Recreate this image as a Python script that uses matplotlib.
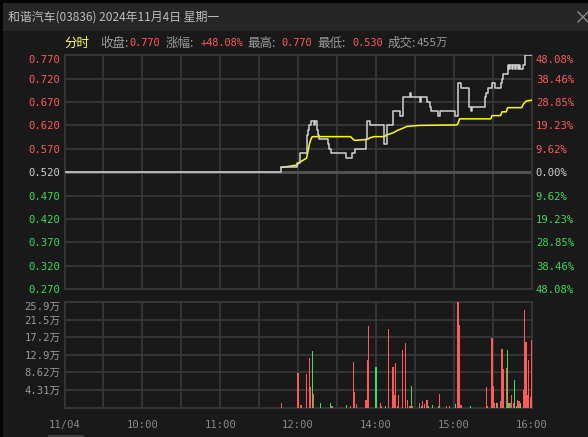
import matplotlib
matplotlib.use("Agg")
import matplotlib.pyplot as plt
from matplotlib.patches import Rectangle
from matplotlib.lines import Line2D

# ---------------- data ----------------
prev_close = 0.52
price_ticks = [0.770, 0.720, 0.670, 0.620, 0.570, 0.520, 0.470, 0.420, 0.370, 0.320, 0.270]
pct_labels = ["48.08%", "38.46%", "28.85%", "19.23%", "9.62%", "0.00%",
              "9.62%", "19.23%", "28.85%", "38.46%", "48.08%"]
vol_ticks = [4.31, 8.62, 12.9, 17.2, 21.5, 25.9]
vol_labels = ["4.31万", "8.62万", "12.9万", "17.2万", "21.5万", "25.9万"]
time_pos = [0, 55, 110, 165, 220, 275, 330]
time_labels = ["11/04", "10:00", "11:00", "12:00", "14:00", "15:00", "16:00"]

# minute index (0..330) and price, step line
price_idx = [0, 153, 164, 166, 171, 172, 173, 174, 176, 177, 178, 179, 180, 186, 187, 188,
             199, 203, 205, 213, 214, 216, 226, 228, 232, 237, 239, 244, 245, 251, 252,
             256, 258, 259, 264, 265, 276, 278, 280, 286, 287, 288, 297, 298, 299, 302,
             304, 308, 309, 310, 313, 314, 315, 316, 317, 318, 319, 320, 321, 322, 324,
             325, 330]
price_val = [0.52, 0.53, 0.54, 0.56, 0.60, 0.61, 0.62, 0.63, 0.62, 0.63, 0.61, 0.60, 0.59,
             0.58, 0.57, 0.56, 0.55, 0.56, 0.57, 0.59, 0.63, 0.62, 0.58, 0.62, 0.65, 0.64,
             0.68, 0.69, 0.68, 0.67, 0.68, 0.67, 0.66, 0.65, 0.64, 0.65, 0.64, 0.71, 0.70,
             0.66, 0.65, 0.66, 0.68, 0.69, 0.70, 0.71, 0.70, 0.71, 0.72, 0.73, 0.75, 0.74,
             0.75, 0.74, 0.75, 0.74, 0.75, 0.74, 0.75, 0.74, 0.75, 0.77, 0.77]

avg_idx = [153, 164, 166, 171, 172, 173, 174, 175, 202, 204, 205, 214, 216, 219, 226, 227,
           232, 235, 239, 242, 251, 277, 278, 279, 301, 302, 308, 309, 312, 313, 323, 324,
           326, 330]
avg_val = [0.53, 0.535, 0.541, 0.55, 0.565, 0.58, 0.59, 0.596, 0.596, 0.590, 0.588, 0.590,
           0.594, 0.596, 0.596, 0.599, 0.604, 0.609, 0.614, 0.618, 0.620, 0.621, 0.624,
           0.634, 0.634, 0.641, 0.641, 0.649, 0.649, 0.658, 0.658, 0.665, 0.672, 0.674]

# volume bars (万), direction 1 = up (red), -1 = down (green)
vol_idx = [153, 165, 167, 171, 173, 174, 175, 176, 181, 188, 189, 199, 202, 204, 205, 206,
           213, 214, 215, 220, 223, 224, 227, 229, 232, 233, 234, 235, 236, 239, 241, 242,
           244, 245, 246, 251, 252, 253, 254, 256, 257, 260, 264, 265, 270, 272, 276, 278,
           279, 280, 287, 298, 299, 302, 303, 304, 305, 306, 308, 309, 310, 312, 313, 314,
           315, 316, 317, 318, 319, 320, 321, 322, 324, 325, 326, 327, 328, 329, 330]
vol_val = [1.06, 8.36, 0.57, 8.20, 12.0, 5.12, 13.8, 3.33, 1.06, 1.06, 0.41, 0.57, 0.41,
           11.1, 3.90, 0.89, 1.87, 11.6, 19.9, 9.82, 1.06, 0.41, 0.41, 19.1, 9.82, 3.09,
           10.8, 0.41, 3.00, 14.0, 15.9, 1.87, 0.41, 5.20, 0.41, 1.06, 0.41, 1.54, 0.89,
           1.87, 0.41, 0.57, 0.41, 3.33, 0.41, 0.41, 0.89, 25.7, 20.1, 0.57, 0.41, 4.95,
           0.41, 17.0, 5.28, 1.06, 1.06, 1.06, 1.54, 14.2, 9.42, 9.58, 14.0, 1.06, 1.06,
           3.00, 1.06, 6.74, 0.41, 1.87, 1.54, 1.06, 4.30, 23.8, 16.0, 3.00, 11.6, 2.68,
           16.5]
vol_dir = [1, 1, 1, 1, 1, 1, -1, 1, -1, -1, 1, -1, 1, 1, 1, 1,
           1, 1, 1, -1, 1, 1, -1, 1, 1, 1, 1, 1, 1, 1, 1, 1,
           1, -1, 1, 1, -1, 1, 1, 1, -1, -1, -1, 1, 1, 1, -1, 1,
           1, 1, -1, 1, 1, 1, 1, 1, -1, 1, 1, 1, 1, 1, -1, -1,
           1, 1, 1, -1, -1, 1, 1, -1, 1, 1, 1, 1, 1, 1, 1]

# ---------------- style ----------------
BG = "#191919"
BAR = "#262626"
GRID = "#3a3a3a"
RED = "#ff5a5a"
GREEN = "#3ddc5a"
GRAY = "#9a9a9a"
WHITE = "#d2d2d2"
YELLOW = "#ffff00"
W, H = 588, 437
NUM = ["DejaVu Sans Mono", "Noto Sans CJK SC"]
CJK = ["Noto Sans CJK SC", "DejaVu Sans"]

fig = plt.figure(figsize=(W / 100, H / 100), dpi=100, facecolor=BG)


def frect(x0, y0, x1, y1, color):
    fig.add_artist(Rectangle((x0 / W, 1 - y1 / H), (x1 - x0) / W, (y1 - y0) / H,
                             transform=fig.transFigure, facecolor=color,
                             edgecolor="none", zorder=0))


def ftext(x, y, s, color, size=9, family=CJK, ha="left"):
    fig.text(x / W, 1 - y / H, s, color=color, fontsize=size, family=family,
             ha=ha, va="center")


# window decoration
frect(0, 0, W, 3, "#050505")
frect(0, 0, 3, H, "#050505")
frect(3, 3, W, 31, BAR)
ftext(8, 17, "和谐汽车(03836) 2024年11月4日 星期一", "#bdbdbd", size=8.6)
fig.add_artist(Line2D([578 / W, 588 / W], [1 - 12 / H, 1 - 22 / H], color="#8a8a8a",
                      lw=1, transform=fig.transFigure))
fig.add_artist(Line2D([578 / W, 588 / W], [1 - 22 / H, 1 - 12 / H], color="#8a8a8a",
                      lw=1, transform=fig.transFigure))
fig.add_artist(Line2D([49 / W, 83 / W], [1 - 435.5 / H, 1 - 435.5 / H], color="#3c3c3c",
                      lw=1.5, transform=fig.transFigure))

# info line
iy = 43
NS = 7.4
ftext(64, iy, "分时", "#ffff66", size=9)
ftext(100, iy, "收盘:", GRAY, size=9)
ftext(129, iy, "0.770", RED, size=NS, family=NUM)
ftext(166, iy, "涨幅:", GRAY, size=9)
ftext(201, iy, "+48.08%", RED, size=NS, family=NUM)
ftext(247, iy, "最高:", GRAY, size=9)
ftext(281, iy, "0.770", RED, size=NS, family=NUM)
ftext(317, iy, "最低:", GRAY, size=9)
ftext(352, iy, "0.530", RED, size=NS, family=NUM)
ftext(388, iy, "成交:", GRAY, size=9)
ftext(416, iy, "455万", GRAY, size=NS + 0.6, family=NUM)

# axes
L, R = 64.5, 531.7
ax1 = fig.add_axes([L / W, 1 - 289 / H, (R - L) / W, (289 - 55.3) / H])
ax2 = fig.add_axes([L / W, 1 - 407.7 / H, (R - L) / W, (407.7 - 301.5) / H])
for ax in (ax1, ax2):
    ax.set_facecolor(BG)
    for sp in ax.spines.values():
        sp.set_color(GRID)
        sp.set_linewidth(1.2)
    ax.set_xlim(0, 330)
    for k in range(1, 12):
        ax.axvline(k * 27.5, color=GRID, lw=1.2, zorder=1)

# price panel
ax1.set_ylim(0.27, 0.77)
for p in price_ticks:
    if abs(p - prev_close) < 1e-9:
        ax1.axhline(p, color="#555555", lw=2.0, zorder=1)
    else:
        ax1.axhline(p, color=GRID, lw=1.2, zorder=1)
ax1.plot(avg_idx, avg_val, color=YELLOW, lw=1.1, zorder=3)
ax1.plot(price_idx, price_val, color=WHITE, lw=1.1, drawstyle="steps-post", zorder=4)
ax1.set_xticks([])
ax1.set_yticks(price_ticks)
ax1.set_yticklabels([f"{p:.3f}" for p in price_ticks], family=NUM, fontsize=7.6)
ax1.tick_params(axis="y", length=0, pad=3)


def tick_color(p):
    if p > prev_close + 1e-9:
        return RED
    if p < prev_close - 1e-9:
        return GREEN
    return "#d0d0d0"


for lab, p in zip(ax1.get_yticklabels(), price_ticks):
    lab.set_color(tick_color(p))
    if p == max(price_ticks):
        lab.set_va("top")

axr = ax1.twinx()
axr.set_ylim(0.27, 0.77)
axr.set_yticks(price_ticks)
axr.set_yticklabels(pct_labels, family=NUM, fontsize=7.6)
axr.tick_params(axis="y", length=0, pad=3)
for sp in axr.spines.values():
    sp.set_visible(False)
for lab, p in zip(axr.get_yticklabels(), price_ticks):
    lab.set_color(tick_color(p))
    if p == max(price_ticks):
        lab.set_va("top")

# volume panel
ax2.set_ylim(0, 25.9)
for v in vol_ticks:
    ax2.axhline(v, color=GRID, lw=1.2, zorder=1)
colors = [RED if d > 0 else GREEN for d in vol_dir]
ax2.bar(vol_idx, vol_val, width=0.85, color=colors, zorder=3, linewidth=0)
ax2.set_yticks(vol_ticks)
ax2.set_yticklabels(vol_labels, family=NUM, fontsize=7.6, color=GRAY)
ax2.yaxis.get_ticklabels()[-1].set_va("top")
ax2.set_xticks(time_pos)
ax2.set_xticklabels(time_labels, family=NUM, fontsize=7.6, color="#8a8a8a")
ax2.tick_params(axis="both", length=0)
ax2.tick_params(axis="y", pad=3)
ax2.tick_params(axis="x", pad=9)

fig.savefig("out.png", dpi=100, facecolor=BG)
